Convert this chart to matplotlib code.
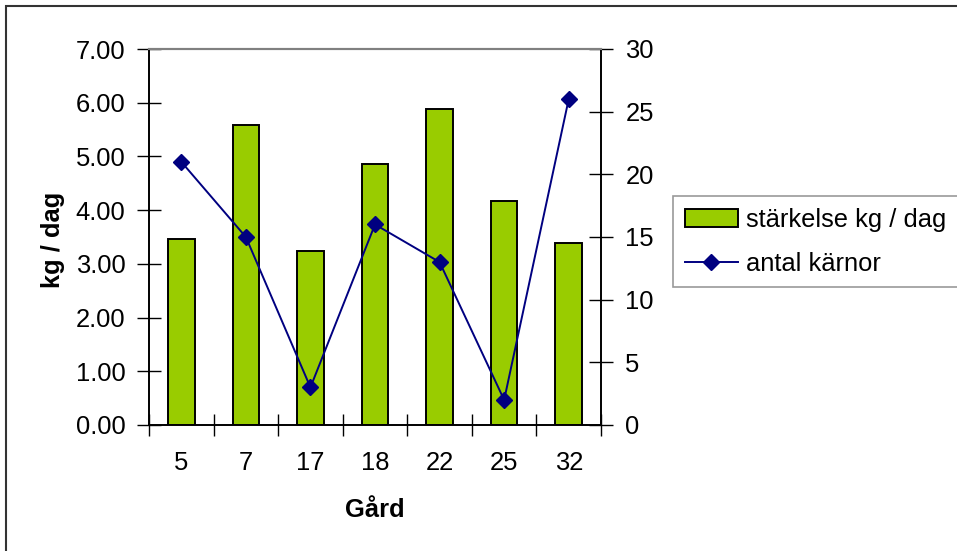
import matplotlib
matplotlib.use("Agg")
import matplotlib.pyplot as plt
import numpy as np

# ===============================
# Data
# ===============================
gard = ["5", "7", "17", "18", "22", "25", "32"]
starkelse = [3.46, 5.59, 3.24, 4.85, 5.89, 4.17, 3.39]   # kg / dag (left axis)
karnor = [21, 15, 3, 16, 13, 2, 26]                       # antal kärnor (right axis)

bar_color = "#99CC00"
line_color = "#000080"

plt.rcParams["font.family"] = ["Liberation Sans", "DejaVu Sans"]
fs = 18.4

fig = plt.figure(figsize=(9.57, 5.51), dpi=100)
ax = fig.add_axes([149 / 957, 1 - 425 / 551, 452 / 957, 376 / 551])
ax2 = ax.twinx()

x = np.arange(len(gard))
bars = ax.bar(x, starkelse, width=0.41, color=bar_color, edgecolor="black",
              linewidth=1.4, label="stärkelse kg / dag", zorder=2)
line, = ax2.plot(x, karnor, color=line_color, linewidth=1.4, marker="D",
                 markersize=8.5, label="antal kärnor", zorder=3)

# --- left axis ---
ax.set_xlim(-0.5, len(gard) - 0.5)
ax.set_ylim(0, 7)
ax.set_yticks(np.arange(0, 7.01, 1))
ax.set_yticklabels([f"{v:.2f}" for v in np.arange(0, 7.01, 1)])
ax.set_xticks(x)
ax.set_xticklabels(gard)
ax.set_xticks(np.arange(-0.5, len(gard), 1), minor=True)
ax.tick_params(axis="x", which="major", length=0, pad=19, labelsize=fs)
ax.tick_params(axis="x", which="minor", direction="inout", length=16, width=1)
ax.tick_params(axis="y", direction="inout", length=17, width=1, pad=8.5, labelsize=fs)

# --- right axis ---
ax2.set_ylim(0, 30)
ax2.set_yticks(np.arange(0, 31, 5))
ax2.tick_params(axis="y", direction="inout", length=17, width=1, pad=9, labelsize=fs)

for a in (ax, ax2):
    a.spines["top"].set_color("#808080")
    a.spines["top"].set_linewidth(1.5)
    a.spines["left"].set_linewidth(1.2)
    a.spines["right"].set_linewidth(1.2)
    a.spines["bottom"].set_linewidth(1.2)
ax.set_zorder(ax2.get_zorder() - 1)
ax2.patch.set_visible(False)

# axis titles
fig.text(53 / 957, 1 - 240 / 551, "kg / dag", rotation=90, ha="center",
         va="center", fontsize=fs, fontweight="bold")
fig.text(375 / 957, 1 - 510 / 551, "Gård", ha="center", va="center",
         fontsize=fs, fontweight="bold")

# legend
leg = fig.legend([bars, line], ["stärkelse kg / dag", "antal kärnor"],
                 loc="upper left", bbox_to_anchor=(673 / 957, 1 - 196 / 551),
                 fontsize=fs, frameon=True, fancybox=False, handlelength=2.1,
                 handletextpad=0.3, labelspacing=0.8, borderpad=0.45,
                 borderaxespad=0)
leg.get_frame().set_edgecolor("#808080")
leg.get_frame().set_linewidth(1.2)

# outer chart border (right and bottom edges fall outside the image)
fig.patches.append(plt.Rectangle((6 / 957, -0.1), 1.2, 1.1 - 6 / 551,
                                 transform=fig.transFigure, fill=False,
                                 edgecolor="#333333", linewidth=1.5))

fig.savefig("out.png", dpi=100)
